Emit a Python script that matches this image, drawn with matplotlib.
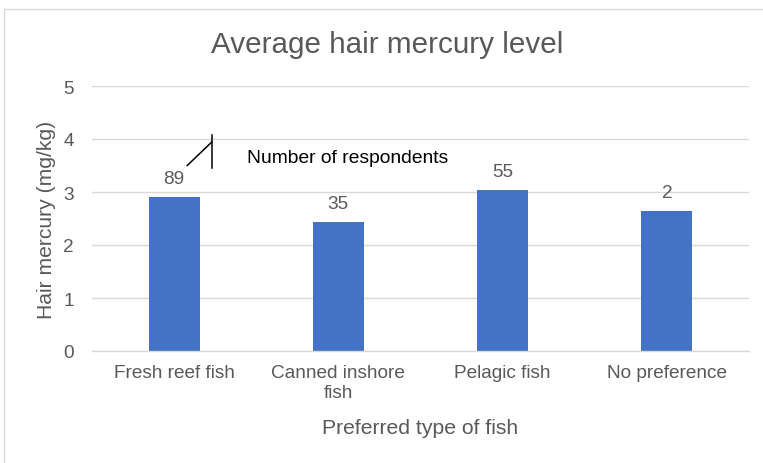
import matplotlib
matplotlib.use("Agg")
import matplotlib.pyplot as plt
from matplotlib.patches import Rectangle

plt.rcParams["font.family"] = ["Liberation Sans", "DejaVu Sans"]

# Data
categories = ["Fresh reef fish", "Canned inshore\nfish", "Pelagic fish", "No preference"]
hair_mercury = [2.90, 2.43, 3.04, 2.65]          # mg/kg
respondents = [89, 35, 55, 2]
y_ticks = [0, 1, 2, 3, 4, 5]

TEXT = "#595959"
GRID = "#D9D9D9"
BAR = "#4472C4"

W, H = 763, 464
fig = plt.figure(figsize=(W / 100, H / 100), dpi=100)
fig.patch.set_facecolor("white")

# chart-area border (runs off the right and bottom edges)
fig.add_artist(Rectangle((3.5 / W, -0.05), 1.1, (H - 9.5) / H + 0.05,
                         transform=fig.transFigure, fill=False,
                         edgecolor=GRID, linewidth=1.0))

ax = fig.add_axes([92 / W, 112 / H, 657 / W, 265 / H])
x = list(range(len(categories)))
ax.bar(x, hair_mercury, width=0.31, color=BAR, zorder=3)

ax.set_xlim(-0.5, len(categories) - 0.5)
ax.set_ylim(0, 5)
ax.set_yticks(y_ticks)
ax.set_xticks(x)
ax.set_xticklabels(categories)
ax.tick_params(axis="x", length=0, pad=9.7, labelsize=13.7, labelcolor=TEXT)
ax.tick_params(axis="y", length=0, pad=13.2, labelsize=13.7, labelcolor=TEXT)
ax.grid(axis="y", color=GRID, linewidth=1.0, zorder=0)
for side in ("top", "right", "left"):
    ax.spines[side].set_visible(False)
ax.spines["bottom"].set_color(GRID)
ax.spines["bottom"].set_linewidth(1.0)
ax.spines["bottom"].set_zorder(4)

# respondent counts above bars
for xi, v, n in zip(x, hair_mercury, respondents):
    ax.annotate(str(n), (xi, v), xytext=(0, 10), textcoords="offset points",
                ha="center", va="baseline", fontsize=13.7, color=TEXT)

# callout for the counts
ax.plot([0.080, 0.228], [3.50, 3.94], color="black", lw=1.1, clip_on=False, zorder=5)
ax.plot([0.228, 0.228], [3.45, 4.075], color="black", lw=1.1, clip_on=False, zorder=5)
ax.text(0.446, 3.566, "Number of respondents", ha="left", va="baseline",
        fontsize=13.9, color="black")

ax.set_xlabel("Preferred type of fish", fontsize=15.2, color=TEXT)
ax.xaxis.set_label_coords(0.5, -0.2528)
ax.set_ylabel("Hair mercury (mg/kg)", fontsize=15.2, color=TEXT)
ax.yaxis.set_label_coords(-0.070, 0.5)
ax.yaxis.label.set_verticalalignment("center")

fig.text(387 / W, (H - 53) / H, "Average hair mercury level", ha="center",
         va="baseline", fontsize=21.3, color=TEXT)

fig.savefig("out.png", dpi=100)
